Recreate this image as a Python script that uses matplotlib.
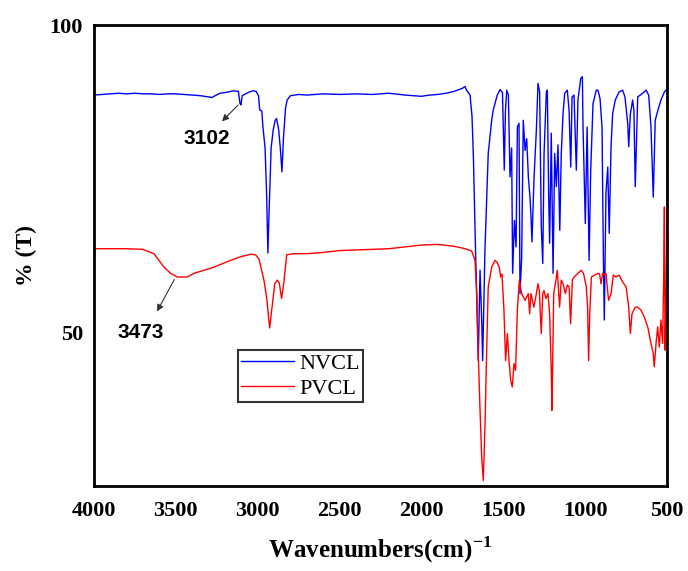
import matplotlib
matplotlib.use("Agg")
import matplotlib.pyplot as plt

plt.rcParams['font.family'] = ['Liberation Serif', 'DejaVu Serif']
plt.rcParams['mathtext.fontset'] = 'custom'
plt.rcParams['mathtext.rm'] = 'Liberation Serif:bold'
plt.rcParams['mathtext.bf'] = 'Liberation Serif:bold'

# FTIR spectra (wavenumber in cm-1, transmittance in %)
wn_nvcl = [4000, 3950, 3900, 3850, 3800, 3750, 3700, 3650, 3600, 3550, 3500, 3450,
           3400, 3350, 3300, 3280, 3260, 3230, 3180, 3150, 3118, 3108, 3102, 3095,
           3060, 3030, 3010, 2995, 2988, 2975, 2968, 2955, 2945, 2938, 2930, 2918,
           2905, 2893, 2885, 2872, 2862, 2852, 2843, 2830, 2820, 2800, 2750, 2700,
           2600, 2500, 2400, 2300, 2200, 2100, 2000, 1950, 1900, 1850, 1800, 1770,
           1750, 1734, 1725, 1716, 1703, 1691, 1682, 1673, 1662, 1653, 1642, 1632,
           1626, 1612, 1601, 1592, 1571, 1561, 1538, 1520, 1505, 1494, 1487, 1479,
           1469, 1459, 1449, 1443, 1432, 1422, 1414, 1404, 1398, 1388, 1378, 1367,
           1357, 1347, 1337, 1331, 1325, 1312, 1298, 1288, 1278, 1268, 1259, 1251,
           1237, 1231, 1223, 1217, 1207, 1196, 1186, 1176, 1166, 1155, 1146, 1135,
           1125, 1109, 1098, 1088, 1080, 1068, 1054, 1044, 1027, 1017, 1013, 999,
           988, 976, 966, 952, 932, 922, 909, 897, 889, 883, 873, 862,
           853, 842, 832, 816, 793, 771, 757, 740, 734, 724, 710, 702,
           694, 679, 648, 628, 612, 598, 584, 572, 555, 537, 516, 503]
t_nvcl = [88.6, 88.7, 88.8, 88.9, 88.8, 88.9, 88.8, 88.8, 88.7, 88.8, 88.8, 88.7,
          88.6, 88.5, 88.3, 88.2, 88.5, 88.9, 89.1, 89.3, 89.2, 87.2, 87.0, 88.5,
          89.0, 89.3, 89.2, 88.5, 86.2, 86.0, 83.4, 80.0, 72.0, 62.9, 70.0, 80.0,
          83.0, 84.5, 84.8, 83.0, 80.0, 76.1, 81.5, 86.5, 87.8, 88.5, 88.7, 88.6,
          88.8, 88.7, 88.8, 88.7, 88.9, 88.6, 88.4, 88.6, 88.7, 88.9, 89.2, 89.5,
          89.7, 90.0, 89.4, 89.1, 88.6, 85.1, 78.0, 67.2, 55.0, 45.4, 60.1, 52.0,
          45.4, 63.4, 72.0, 79.1, 84.5, 86.2, 88.5, 89.5, 89.0, 76.4, 86.0, 89.4,
          88.6, 75.3, 80.0, 59.6, 68.2, 63.9, 83.4, 84.0, 56.3, 62.0, 84.5, 79.6,
          81.5, 75.3, 72.0, 69.0, 64.7, 75.3, 82.9, 90.5, 89.1, 67.2, 61.2, 79.1,
          89.1, 89.4, 72.6, 64.5, 82.4, 59.6, 79.1, 73.7, 80.5, 66.6, 79.0, 85.6,
          88.9, 89.4, 86.0, 76.9, 88.3, 88.6, 76.4, 87.8, 91.3, 91.6, 83.4, 67.7,
          83.4, 61.7, 76.4, 87.2, 89.4, 89.4, 88.0, 83.4, 62.9, 52.0, 72.6, 76.9,
          66.1, 80.2, 85.6, 87.8, 89.1, 89.4, 88.3, 84.0, 80.2, 85.5, 87.8, 86.0,
          73.7, 88.3, 88.9, 89.4, 88.6, 83.4, 72.0, 84.5, 86.2, 87.8, 89.1, 89.5]

wn_pvcl = [4000, 3900, 3800, 3700, 3694, 3634, 3572, 3532, 3491, 3430, 3389, 3328,
           3267, 3186, 3104, 3043, 3012, 2992, 2962, 2945, 2927, 2911, 2896, 2880,
           2868, 2854, 2840, 2823, 2778, 2697, 2600, 2500, 2400, 2300, 2200, 2100,
           2000, 1900, 1800, 1764, 1720, 1693, 1673, 1662, 1653, 1642, 1632, 1622,
           1612, 1601, 1592, 1571, 1551, 1538, 1524, 1516, 1508, 1496, 1486, 1475,
           1465, 1455, 1445, 1435, 1425, 1414, 1402, 1388, 1367, 1347, 1339, 1331,
           1313, 1298, 1288, 1280, 1268, 1259, 1251, 1240, 1227, 1217, 1207, 1203,
           1192, 1182, 1170, 1156, 1146, 1135, 1121, 1109, 1098, 1089, 1078, 1068,
           1044, 1024, 1010, 993, 985, 979, 972, 962, 942, 922, 912, 903,
           893, 883, 873, 857, 842, 828, 812, 793, 771, 750, 734, 724,
           714, 694, 679, 659, 639, 618, 598, 584, 578, 567, 557, 547,
           537, 527, 520, 516, 512, 506, 501]
t_pvcl = [63.6, 63.6, 63.6, 63.5, 63.4, 62.8, 60.6, 59.6, 59.0, 59.0, 59.6, 60.1,
          60.6, 61.5, 62.3, 62.7, 62.6, 61.9, 58.5, 55.5, 50.7, 54.4, 57.9, 58.5,
          58.0, 55.5, 58.2, 62.6, 62.8, 62.8, 63.0, 63.3, 63.4, 63.5, 63.6, 63.9,
          64.2, 64.3, 64.0, 63.8, 63.5, 63.2, 61.7, 56.3, 46.6, 37.3, 29.7, 25.9,
          34.6, 47.6, 57.4, 60.6, 61.7, 61.4, 60.5, 59.0, 59.5, 53.6, 45.4, 49.8,
          45.4, 42.2, 41.1, 44.9, 43.8, 53.6, 58.5, 56.3, 55.2, 56.3, 53.0, 56.3,
          54.1, 56.3, 57.9, 56.8, 49.8, 56.3, 56.8, 55.5, 56.3, 53.0, 43.8, 37.3,
          56.3, 57.9, 60.1, 54.1, 58.5, 57.9, 56.3, 57.7, 57.4, 51.4, 58.5, 59.0,
          59.6, 60.1, 59.6, 57.4, 54.1, 45.4, 53.0, 59.0, 59.3, 59.6, 59.5, 57.9,
          59.6, 59.3, 59.6, 55.2, 56.3, 59.3, 59.0, 59.3, 58.2, 57.4, 54.1, 49.8,
          53.0, 54.1, 54.1, 53.6, 52.5, 50.9, 48.2, 46.5, 44.4, 48.2, 50.9, 47.6,
          52.0, 48.2, 59.6, 70.4, 47.1, 55.0, 70.0]

x_ticks = [4000, 3500, 3000, 2500, 2000, 1500, 1000, 500]
y_ticks = [50, 100]

fig = plt.figure(figsize=(6.88, 5.71), dpi=100)
ax = fig.add_axes([0.1366, 0.1489, 0.8329, 0.8073])

ax.plot(wn_nvcl, t_nvcl, color='#0000ff', lw=1.0, label='NVCL')
ax.plot(wn_pvcl, t_pvcl, color='#ff0000', lw=1.0, label='PVCL')

ax.set_xlim(4000, 500)
ax.set_ylim(25, 100)
ax.set_xticks(x_ticks)
ax.set_yticks(y_ticks)
ax.tick_params(length=0, labelsize=16)
ax.tick_params(axis='x', pad=11)
ax.tick_params(axis='y', pad=8)
for lab in ax.get_xticklabels() + ax.get_yticklabels():
    lab.set_fontweight('bold')
for s in ax.spines.values():
    s.set_linewidth(2)

ax.set_xlabel(r'Wavenumbers(cm)$^{-1}$', fontsize=18, fontweight='bold')
ax.xaxis.set_label_coords(0.5, -0.105)
ax.set_ylabel('% (T)', fontsize=17, fontweight='bold')
ax.yaxis.set_label_coords(-0.1, 0.5)

# peak labels with arrows
arr = dict(arrowstyle='-|>', color='#333333', lw=0.8, mutation_scale=10)
ax.annotate('', xy=(3230, 84.0), xytext=(3108, 87.3), arrowprops=arr)
ax.text(3313, 81.6, '3102', fontsize=15, fontweight='bold',
        family='Liberation Sans', ha='center', va='center')
ax.annotate('', xy=(3623, 53.0), xytext=(3501, 59.0), arrowprops=arr)
ax.text(3713, 50.0, '3473', fontsize=15, fontweight='bold',
        family='Liberation Sans', ha='center', va='center')

leg = ax.legend(loc='lower left', bbox_to_anchor=(0.251, 0.182), borderaxespad=0,
                fontsize=16, handlelength=2.4, handletextpad=0.2, labelspacing=0.2,
                borderpad=0.15, fancybox=False, framealpha=1)
leg.get_frame().set_edgecolor('#333333')
leg.get_frame().set_linewidth(1.5)

plt.savefig('out.png', dpi=100)
